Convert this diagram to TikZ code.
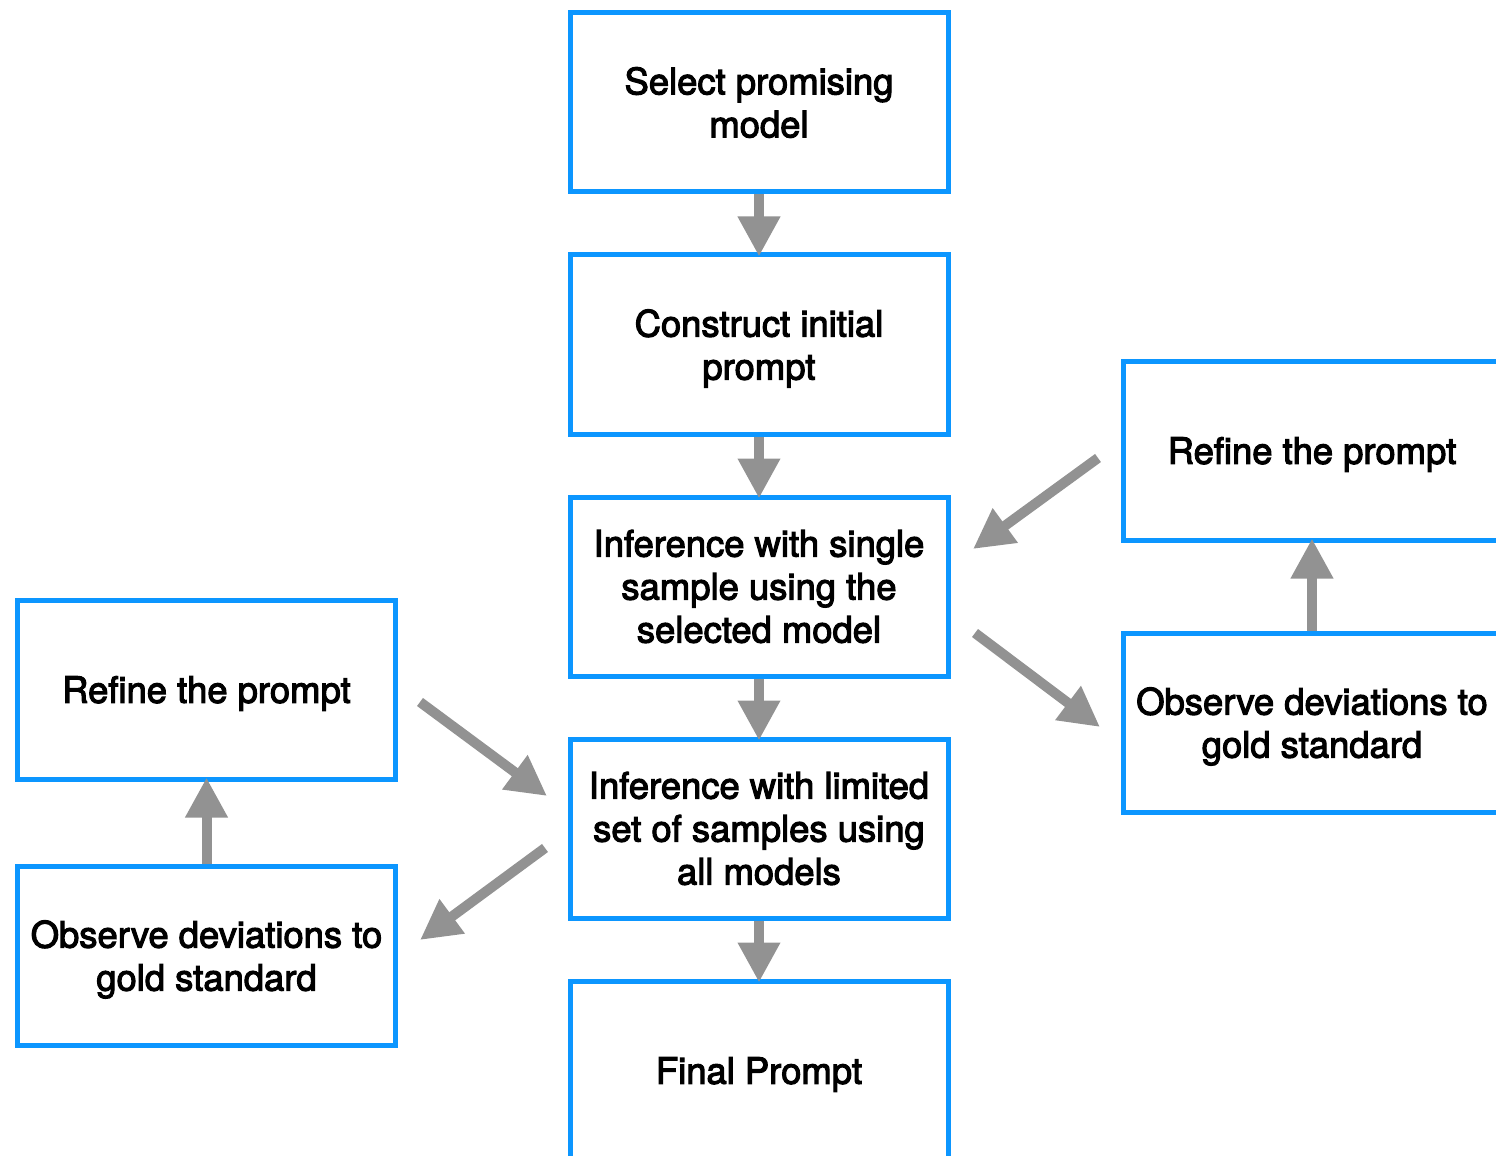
\documentclass[tikz,border=0pt]{standalone}
\usepackage{fontspec}
\setmainfont{TeX Gyre Heros}[FakeBold=3]
\usetikzlibrary{arrows.meta}
\definecolor{boxblue}{RGB}{12,150,255}
\definecolor{arrowgray}{RGB}{146,146,146}

\begin{document}
\begin{tikzpicture}[
          x=0.5pt, y=-0.5pt,
          stepbox/.style={rectangle, draw=boxblue, line width=2.5pt, minimum width=189pt, minimum height=89.5pt, inner sep=2pt, align=center, font=\fontsize{18.2}{21.5}\selectfont},
          oneline/.style={text depth=0pt},
          sunk/.style={text depth=-4.5pt},
          arrow/.style={-{Triangle[length=20pt, width=20pt]}, line width=5pt, draw=arrowgray, fill=arrowgray}
        ]
          \clip (0,0) rectangle (1496,1156);

          % Main column
          \node[stepbox] (sel) at (759,102.5) {Select promising\\model};
          \node[stepbox, oneline] (init) at (759,344.5) {Construct initial\\prompt};
          \node[stepbox] (single) at (759,586.5) {Inference with single\\sample using the\\selected model};
          \node[stepbox] (limited) at (759,828.5) {Inference with limited\\set of samples using\\all models};
          \node[stepbox, oneline] (final) at (759,1070.5) {Final Prompt};

          % Left loop
          \node[stepbox, oneline] (refL) at (206.5,689.5) {Refine the prompt};
          \node[stepbox, sunk] (obsL) at (206.5,955.5) {Observe deviations to\\gold standard};

          % Right loop
          \node[stepbox, oneline] (refR) at (1312,450.5) {Refine the prompt};
          \node[stepbox, sunk] (obsR) at (1312,722.5) {Observe deviations to\\gold standard};

          % Loose arrow ends
          \coordinate (rin) at (1098,458);
          \coordinate (rinend) at (973,549);
          \coordinate (rout) at (975,633);
          \coordinate (routend) at (1100,727);
          \coordinate (lin) at (420,702);
          \coordinate (linend) at (547,796);
          \coordinate (lout) at (545,848);
          \coordinate (loutend) at (420,940);

          % Arrows
          \draw[arrow, shorten >=-2pt] (sel.south) -- (init.north);
          \draw[arrow, shorten >=-2pt] (init.south) -- (single.north);
          \draw[arrow, shorten >=-2pt] (single.south) -- (limited.north);
          \draw[arrow, shorten >=-2pt] (limited.south) -- (final.north);

          \draw[arrow, shorten >=-2pt] (obsL.north) -- (refL.south);
          \draw[arrow, shorten >=-2pt] (obsR.north) -- (refR.south);

          \draw[arrow] (rin) -- (rinend);
          \draw[arrow] (rout) -- (routend);
          \draw[arrow] (lin) -- (linend);
          \draw[arrow] (lout) -- (loutend);
        \end{tikzpicture}
\end{document}
